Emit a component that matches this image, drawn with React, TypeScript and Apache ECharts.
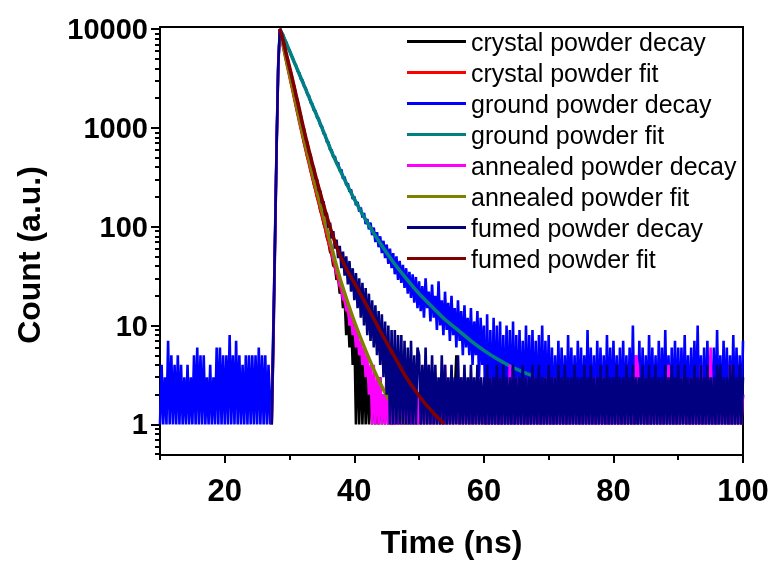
import React, { useEffect, useRef } from "react";
import * as echarts from "echarts";

// ---- sampling grid of the decay traces (ns) ----
const STEP = 0.25;
const PRE_START = 10;
const RISE_START = 27.25;
const DECAY_START = 28.75;
const TAIL_START = 50;

// ---- axis ticks / labels ----
const xLabelValues = [20, 40, 60, 80, 100];
const xMinorTicks = [10, 30, 50, 70, 90];
const yLabelValues = [1, 10, 100, 1000, 10000];
const yMinorTicks = [
  0.5, 0.6, 0.7, 0.8, 0.9,
  2, 3, 4, 5, 6, 7, 8, 9,
  20, 30, 40, 50, 60, 70, 80, 90,
  200, 300, 400, 500, 600, 700, 800, 900,
  2000, 3000, 4000, 5000, 6000, 7000, 8000, 9000,
];

const seriesNames = [
  "crystal powder decay",
  "crystal powder fit",
  "ground powder decay",
  "ground powder fit",
  "annealed powder decay",
  "annealed powder fit",
  "fumed powder decay",
  "fumed powder fit",
];
const seriesColors = ["#000000", "#ff0000", "#0000ff", "#008080", "#ff00ff", "#808000", "#000080", "#800000"];

// ---- ground powder decay (counts) ----
const groundPre = [
  1, 4, 1, 3, 1, 7, 1, 5, 1, 4,
  1, 5, 1, 4, 1, 3, 1, 4, 1, 3,
  1, 5, 1, 6, 1, 5, 1, 5, 1, 3,
  1, 4, 1, 3, 1, 6, 1, 6, 1, 5,
  1, 5, 1, 8, 1, 5, 1, 7, 1, 5,
  1, 4, 1, 5, 1, 5, 1, 5, 1, 5,
  1, 6, 1, 5, 1, 5, 1, 4, 1,
];
const groundRise = [2, 10, 80, 700, 4500, 10000];
const groundDecay = [
  9300,
  8800, 7800, 7300, 6400,
  6100, 5400, 5100, 4500,
  4300, 3750, 3600, 3100,
  3050, 2620, 2520, 2180,
  2120, 1800, 1760, 1500,
  1490, 1260, 1250, 1050,
  1040, 870, 860, 720,
  720, 600, 600, 500,
  515, 430, 445, 365,
  380, 305, 320, 262,
  275, 225, 238, 190,
  202, 165, 178, 142,
  156, 124, 138, 106,
  120, 94, 110, 82,
  98, 70, 88, 62,
  80, 54, 72, 48,
  66, 42, 60, 38,
  54, 33, 50, 29,
  45, 27, 41, 24,
  38, 21, 35, 19,
  33, 17, 31, 15,
];
const groundTail = [
  28, 14, 25, 12, 30, 15, 22, 11, 26, 12, 20, 9, 28, 10, 18, 8, 22, 9, 17, 7,
  20, 8, 15, 6, 18, 7, 14, 5, 16, 6, 12, 5, 15, 4, 11, 5, 14, 3, 12, 4,
  10, 1, 13, 1, 9, 1, 12, 1, 10, 1, 11, 1, 8, 1, 10, 1, 9, 1, 11, 1,
  8, 1, 9, 1, 7, 1, 10, 1, 8, 1, 9, 1, 7, 1, 8, 1, 10, 1, 7, 1,
  8,
  1, 6, 1, 5, 1, 7, 1, 6, 1, 5, 1, 8, 1, 6, 1, 5, 1, 7, 1, 6,
  1, 5, 1, 9, 1, 6, 1, 5, 1, 7, 1, 6, 1, 5, 1, 8, 1, 6, 1, 7,
  1, 5, 1, 6, 1, 7, 1, 5, 1, 6, 1, 10, 1, 5, 1, 7, 1, 6, 1, 5,
  1, 8, 1, 6, 1, 5, 1, 7, 1, 6, 1, 9, 1, 5, 1, 6, 1, 7, 1, 6,
  1, 6, 1, 8, 1, 5, 1, 6, 1, 7, 1, 10, 1, 5, 1, 6, 1, 7, 1, 5,
  1, 6, 1, 9, 1, 5, 1, 7, 1, 6, 1, 5, 1, 8, 1, 6, 1, 5, 1, 7,
];

// ---- crystal powder decay ----
const crystalRise = [1, 6, 60, 600, 4000, 10000];
const crystalDecay = [
  8900,
  6900, 5800, 4800, 4050,
  3400, 2850, 2400, 2000,
  1680, 1400, 1190, 990,
  850, 700, 605, 505,
  445, 370, 322, 270,
  238, 198, 176, 145,
  130, 108, 96, 78,
  70, 56, 52, 40,
  40, 29, 31, 21,
  24, 15, 19, 8,
  15, 6, 12, 4,
  9, 1, 8, 1,
  6, 1, 5, 1,
  4, 1, 3, 1,
  3, 1, 2, 1,
  3, 1, 2, 1,
  4, 1, 2, 1,
  2, 1, 3, 1,
  2, 1, 2, 1,
  3, 1, 2, 1,
  2, 1, 2, 1,
];
const crystalTail = [
  2, 1, 2, 1, 2, 1, 3, 1, 2, 1, 2, 1, 2, 1, 2, 1, 2, 1, 2, 1,
  2, 1, 2, 5, 2, 1, 2, 1, 2, 1, 2, 1, 3, 1, 2, 1, 2, 1, 2, 1,
  2, 1, 2, 1, 2, 1, 2, 1, 3, 1, 2, 1, 2, 1, 2, 1, 2, 1, 2, 1,
  2, 1, 3, 1, 2, 1, 2, 1, 2, 1, 2, 1, 2, 1, 2, 1, 3, 1, 2, 1,
  2, 1, 2, 1, 2, 1, 3, 1, 2, 1, 2, 1, 2, 1, 2, 1, 2, 1, 3, 1,
  2, 1, 2, 1, 2, 1, 2, 1, 2, 1, 3, 1, 2, 1, 2, 1, 2, 1, 2, 1,
  2, 1, 2, 1, 3, 1, 2, 1, 2, 1, 2, 1, 2, 1, 2, 1, 3, 1, 2, 1,
  2, 1, 2, 1, 2, 1, 2, 1, 3, 1, 2, 1, 2, 1, 2, 1, 2, 1, 2, 1,
  2, 1, 3, 1, 2, 1, 2, 1, 2, 1, 2, 1, 2, 1, 3, 1, 2, 1, 2, 1,
  2, 1, 2, 1, 2, 1, 3, 1, 2, 1, 2, 1, 2, 1, 2, 1, 2, 1, 3, 1,
  2,
];

// ---- annealed powder decay ----
const annealedRise = [1, 7, 65, 620, 4100, 10000];
const annealedDecay = [
  8950,
  6950, 5850, 4880, 4100,
  3480, 2920, 2480, 2060,
  1740, 1460, 1240, 1040,
  895, 745, 645, 550,
  478, 400, 348, 292,
  258, 218, 193, 162,
  143, 120, 108, 88,
  80, 64, 60, 46,
  44, 34, 33, 25,
  25, 18, 20, 14,
  16, 10, 13, 8,
  10, 6, 9, 5,
  7, 4, 6, 3,
  5, 2, 4, 1,
  4, 1, 3, 1,
  3, 1, 2, 1,
  3, 1, 2, 1,
  3, 1, 2, 1,
  2, 1, 3, 1,
  2, 1, 2, 1,
  2, 1, 3, 1,
];
const annealedTail = [
  2, 1, 3, 1, 2, 1, 4, 1, 2, 1, 3, 1, 2, 1, 2, 1, 4, 1, 2, 1,
  3, 1, 2, 1, 2, 1, 3, 1, 2, 1, 2, 1, 3, 1, 2, 1, 2, 1, 3, 1,
  2, 1, 2, 1, 3, 1, 2, 1, 2, 1, 3, 1, 2, 1, 2, 1, 4, 1, 2, 1,
  3, 1, 2, 1, 2, 1, 3, 1, 2, 1, 2, 1, 3, 1, 2, 1, 2, 1, 3, 1,
  2, 1, 2, 1, 3, 1, 2, 1, 2, 1, 3, 1, 2, 1, 2, 1, 3, 1, 2, 1,
  2, 1, 3, 1, 2, 1, 2, 1, 3, 1, 2, 1, 2, 1, 3, 1, 2, 1, 2, 1,
  2, 1, 3, 1, 2, 1, 2, 1, 3, 1, 2, 1, 2, 1, 5, 4, 2, 1, 2, 1,
  3, 1, 2, 1, 2, 1, 3, 1, 2, 1, 2, 1, 3, 1, 4, 1, 2, 1, 2, 1,
  2, 1, 3, 1, 2, 1, 2, 1, 3, 1, 2, 1, 2, 1, 4, 1, 2, 1, 3, 1,
  6, 1, 2, 1, 2, 1, 3, 1, 2, 1, 2, 1, 4, 1, 2, 1, 2, 1, 3, 1,
  2,
];

// ---- fumed powder decay ----
const fumedRise = [1, 8, 70, 650, 4200, 10000];
const fumedDecay = [
  9050,
  7650, 6650, 5550, 4850,
  4050, 3560, 2950, 2600,
  2100, 1880, 1510, 1330,
  1070, 970, 770, 715,
  565, 530, 420, 395,
  310, 300, 232, 230,
  172, 180, 130, 138,
  98, 110, 76, 90,
  60, 74, 48, 64,
  38, 56, 32, 50,
  26, 45, 22, 38,
  18, 34, 15, 30,
  12, 27, 10, 24,
  8, 21, 7, 18,
  6, 16, 5, 14,
  4, 13, 3, 11,
  2, 10, 1, 9,
  1, 9, 1, 8,
  1, 8, 1, 7,
  1, 6, 1, 7,
  1, 5, 1, 6,
];
const fumedTail = [
  5, 1, 4, 1, 6, 1, 4, 1, 5, 1, 4, 1, 3, 1, 5, 1, 4, 1, 3, 1,
  4, 1, 3, 1, 5, 1, 3, 1, 4, 1, 3, 1, 4, 1, 3, 1, 4, 1, 3, 1,
  3, 1, 4, 1, 3, 1, 3, 1, 4, 1, 3, 1, 4, 1, 3, 1, 3, 1, 4, 1,
  3, 1, 3, 1, 4, 1, 3, 1, 3, 1, 4, 1, 3, 1, 4, 1, 3, 1, 3, 1,
  4, 1, 3, 1, 3, 1, 4, 1, 3, 1, 4, 1, 3, 1, 3, 1, 4, 1, 3, 1,
  3, 1, 4, 1, 3, 1, 4, 1, 3, 1, 3, 1, 4, 1, 3, 1, 4, 1, 3, 1,
  3, 1, 4, 1, 3, 1, 3, 1, 4, 1, 3, 1, 4, 1, 3, 1, 3, 1, 4, 1,
  3, 1, 4, 1, 3, 1, 4, 1, 3, 1, 3, 1, 4, 1, 3, 1, 4, 1, 3, 1,
  4, 1, 3, 1, 4, 1, 3, 1, 3, 1, 4, 1, 3, 1, 4, 1, 3, 1, 4, 1,
  3, 1, 3, 1, 4, 1, 4, 1, 3, 1, 3, 1, 4, 1, 4, 1, 3, 1, 4, 1,
  3,
];

// ---- fit curves (time ns, counts) ----
const crystalFitT = [28.5, 29, 29.5, 30, 30.5, 31, 31.5, 32, 32.5, 33, 33.5, 34, 34.5, 35, 35.5, 36, 36.5, 37, 37.5, 38, 39, 40, 41, 42, 43, 44, 45, 46];
const crystalFitV = [10000, 6900, 4800, 3400, 2400, 1680, 1190, 850, 610, 445, 325, 240, 178, 132, 98, 72, 54, 40, 30, 23, 14, 8.8, 5.7, 3.8, 2.6, 1.8, 1.3, 1.0];
const groundFitT = [28.5, 29.5, 30.5, 31.5, 32.5, 33.5, 34.5, 35.5, 36.5, 38, 40, 42, 44, 46, 48, 50, 52, 54, 56, 58, 60, 62, 64, 66, 67.6];
const groundFitV = [10000, 7200, 5000, 3500, 2450, 1700, 1200, 830, 570, 350, 190, 110, 68, 44, 30, 21, 15.5, 11.5, 9.0, 7.0, 5.6, 4.6, 3.9, 3.4, 3.1];
const annealedFitT = [28.5, 29, 29.5, 30, 30.5, 31, 31.5, 32, 32.5, 33, 33.5, 34, 34.5, 35, 35.5, 36, 36.5, 37, 37.5, 38, 39, 40, 41, 42, 43, 44, 45, 46, 47, 48];
const annealedFitV = [10000, 7000, 4900, 3500, 2500, 1750, 1250, 900, 650, 480, 350, 260, 195, 145, 110, 82, 62, 46, 35, 27, 17, 11, 7.4, 5.1, 3.6, 2.6, 1.95, 1.5, 1.2, 1.02];
const fumedFitT = [28.5, 29, 29.5, 30, 30.5, 31, 31.5, 32, 32.5, 33, 33.5, 34, 34.5, 35, 35.5, 36, 36.5, 37, 37.5, 38, 39, 40, 41, 42, 43, 44, 45, 46, 47, 48, 49, 50, 51, 52, 53, 53.8];
const fumedFitV = [10000, 7700, 5600, 4100, 3000, 2150, 1550, 1100, 800, 590, 440, 330, 250, 190, 145, 112, 88, 70, 57, 48, 35, 27, 20.5, 15.5, 11.7, 8.8, 6.7, 5.1, 3.9, 3.0, 2.4, 1.95, 1.6, 1.35, 1.15, 1.02];

const seg = (t0: number, vals: number[]) => vals.map((v, k) => [t0 + k * STEP, v]);
const pairs = (ts: number[], vs: number[]) => ts.map((t, k) => [t, vs[k]]);
const decayData = (rise: number[], decay: number[], tail: number[]) => [
  ...seg(RISE_START, rise),
  ...seg(DECAY_START, decay),
  ...seg(TAIL_START, tail),
];

const FONT = '"Liberation Sans", Arial, Helvetica, sans-serif';

export default function App() {
  const ref = useRef<HTMLDivElement>(null);
  useEffect(() => {
    if (!ref.current) return;
    const chart = echarts.init(ref.current, null, { renderer: "svg" });
    const datasets = [
      decayData(crystalRise, crystalDecay, crystalTail),
      pairs(crystalFitT, crystalFitV),
      [...seg(PRE_START, groundPre), ...decayData(groundRise, groundDecay, groundTail)],
      pairs(groundFitT, groundFitV),
      decayData(annealedRise, annealedDecay, annealedTail),
      pairs(annealedFitT, annealedFitV),
      decayData(fumedRise, fumedDecay, fumedTail),
      pairs(fumedFitT, fumedFitV),
    ];
    const series = datasets.map((data, k) => {
      const isFit = k % 2 === 1;
      return {
        type: "line",
        name: seriesNames[k],
        data,
        xAxisIndex: 0,
        yAxisIndex: 0,
        showSymbol: false,
        symbol: "none",
        smooth: isFit ? 0.3 : false,
        silent: true,
        lineStyle: {
          color: seriesColors[k],
          width: isFit ? 3.5 : 2.6,
          join: isFit ? "round" : "bevel",
          cap: "butt",
        },
        itemStyle: { color: seriesColors[k] },
      };
    });
    const axisLabelStyle = { color: "#000", fontFamily: FONT, fontWeight: "bold" };
    chart.setOption({
      animation: false,
      grid: {
        left: 160,
        right: 31,
        top: 27,
        bottom: 102,
        show: true,
        borderColor: "#000",
        borderWidth: 2,
        backgroundColor: "transparent",
      },
      legend: {
        data: seriesNames,
        orient: "vertical",
        left: 407,
        top: 29,
        padding: 0,
        icon: "rect",
        itemWidth: 59,
        itemHeight: 3,
        itemGap: 6,
        itemTextGap: 6,
        selectedMode: false,
        textStyle: { color: "#000", fontFamily: FONT, fontSize: 25, lineHeight: 25 },
      },
      xAxis: [
        {
          type: "value",
          min: 10,
          max: 100,
          position: "bottom",
          name: "Time (ns)",
          nameLocation: "middle",
          nameGap: 71,
          nameTextStyle: { ...axisLabelStyle, fontSize: 32 },
          axisLine: { show: true, onZero: false, lineStyle: { color: "#000", width: 2 } },
          axisTick: { show: true, customValues: xLabelValues, length: 8, lineStyle: { color: "#000", width: 2 } },
          axisLabel: {
            customValues: xLabelValues,
            ...axisLabelStyle,
            fontSize: 31,
            margin: 20,
            formatter: (v: number) => String(Math.round(v)),
          },
          splitLine: { show: false },
        },
        {
          type: "value",
          min: 10,
          max: 100,
          position: "bottom",
          axisLine: { show: false, onZero: false },
          axisTick: { show: true, customValues: xMinorTicks, length: 5, lineStyle: { color: "#000", width: 2 } },
          axisLabel: { show: false },
          splitLine: { show: false },
        },
      ],
      yAxis: [
        {
          type: "log",
          logBase: 10,
          min: 0.49,
          max: 10470,
          position: "left",
          axisLine: { show: true, onZero: false, lineStyle: { color: "#000", width: 2 } },
          axisTick: { show: true, customValues: yLabelValues, length: 9, lineStyle: { color: "#000", width: 2 } },
          axisLabel: {
            customValues: yLabelValues,
            ...axisLabelStyle,
            fontSize: 29,
            margin: 12,
            formatter: (v: number) => String(Math.round(v)),
          },
          splitLine: { show: false },
          minorTick: { show: false },
        },
        {
          type: "log",
          logBase: 10,
          min: 0.49,
          max: 10470,
          position: "left",
          axisLine: { show: false, onZero: false },
          axisTick: { show: true, customValues: yMinorTicks, length: 5, lineStyle: { color: "#000", width: 2 } },
          axisLabel: { show: false },
          splitLine: { show: false },
        },
      ],
      graphic: [
        {
          type: "text",
          x: 29,
          y: 255,
          rotation: Math.PI / 2,
          style: {
            text: "Count (a.u.)",
            fill: "#000",
            font: `bold 32px ${FONT}`,
            align: "center",
            verticalAlign: "middle",
            textAlign: "center",
            textVerticalAlign: "middle",
          },
        },
      ],
      series,
    });
    return () => chart.dispose();
  }, []);
  return <div ref={ref} style={{ position: "fixed", left: 0, top: 0, width: 774, height: 563 }} />;
}
